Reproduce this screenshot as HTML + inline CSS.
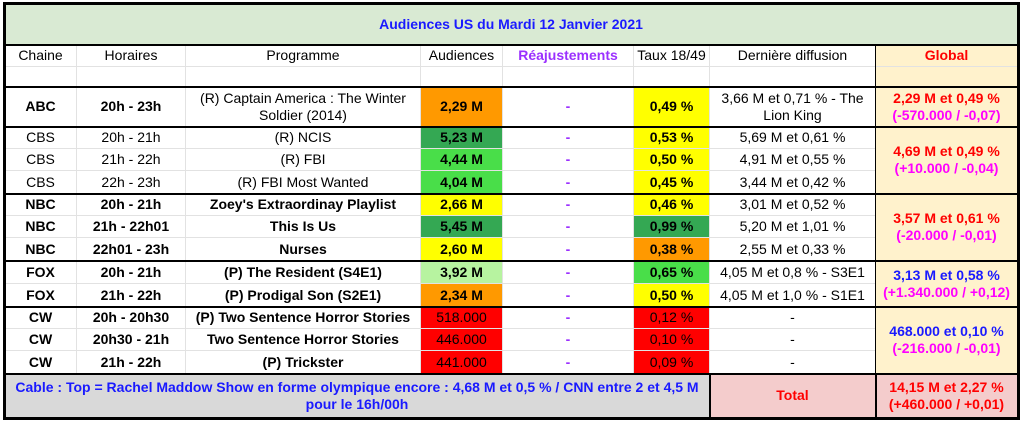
<!DOCTYPE html>
<html><head><meta charset="utf-8"><style>
body{margin:0;width:1022px;height:422px;background:#fff;position:relative;overflow:hidden;font-family:"Liberation Sans",Arial,sans-serif;font-size:14px;color:#000}
.c{position:absolute;box-sizing:border-box;display:flex;align-items:center;justify-content:center;text-align:center;border-right:1px solid #e2e2e2;border-bottom:1px solid #e2e2e2;line-height:17px;padding:0 2px}
.b{font-weight:bold}
.h{position:absolute;background:#000}
.pu{color:#9b30ff;font-weight:bold}
.or{background:#ff9900}.dg{background:#34a853}.g{background:#49de49}.lg{background:#b7f3a0}.y{background:#ffff00}.r{background:#ff0000}
.gl{background:#fff2cc;font-weight:bold}
.red{color:#ff0000}.mg{color:#ff00ff}.bl{color:#1a1aff}
</style></head><body>
<div class="c b bl" style="left:5px;top:4px;width:1013px;height:41px;background:#d9ead3">Audiences US du Mardi 12 Janvier 2021</div>
<div class="c" style="left:5px;top:45px;width:72px;height:22px">Chaine</div>
<div class="c" style="left:77px;top:45px;width:109px;height:22px">Horaires</div>
<div class="c" style="left:186px;top:45px;width:235px;height:22px">Programme</div>
<div class="c" style="left:421px;top:45px;width:82px;height:22px">Audiences</div>
<div class="c pu" style="left:503px;top:45px;width:131px;height:22px">Réajustements</div>
<div class="c" style="left:634px;top:45px;width:76px;height:22px">Taux 18/49</div>
<div class="c" style="left:710px;top:45px;width:166px;height:22px">Dernière diffusion</div>
<div class="c gl red" style="left:876px;top:45px;width:142px;height:22px">Global</div>
<div class="c" style="left:5px;top:67px;width:72px;height:20px"></div>
<div class="c" style="left:77px;top:67px;width:109px;height:20px"></div>
<div class="c" style="left:186px;top:67px;width:235px;height:20px"></div>
<div class="c" style="left:421px;top:67px;width:82px;height:20px"></div>
<div class="c" style="left:503px;top:67px;width:131px;height:20px"></div>
<div class="c" style="left:634px;top:67px;width:76px;height:20px"></div>
<div class="c" style="left:710px;top:67px;width:166px;height:20px"></div>
<div class="c gl" style="left:876px;top:67px;width:142px;height:20px"></div>
<div class="c b" style="left:5px;top:87px;width:72px;height:40px">ABC</div>
<div class="c b" style="left:77px;top:87px;width:109px;height:40px">20h - 23h</div>
<div class="c" style="left:186px;top:87px;width:235px;height:40px">(R) Captain America : The Winter Soldier (2014)</div>
<div class="c b or" style="left:421px;top:87px;width:82px;height:40px">2,29 M</div>
<div class="c pu" style="left:503px;top:87px;width:131px;height:40px">-</div>
<div class="c b y" style="left:634px;top:87px;width:76px;height:40px">0,49 %</div>
<div class="c" style="left:710px;top:87px;width:166px;height:40px;padding:0 8px">3,66 M et 0,71 % - The Lion King</div>
<div class="c gl" style="left:876px;top:87px;width:142px;height:40px"><div><span class="red">2,29 M et 0,49 %</span><br><span class="mg">(-570.000 / -0,07)</span></div></div>
<div class="c" style="left:5px;top:127px;width:72px;height:22px">CBS</div>
<div class="c" style="left:77px;top:127px;width:109px;height:22px">20h - 21h</div>
<div class="c" style="left:186px;top:127px;width:235px;height:22px">(R) NCIS</div>
<div class="c b dg" style="left:421px;top:127px;width:82px;height:22px">5,23 M</div>
<div class="c pu" style="left:503px;top:127px;width:131px;height:22px">-</div>
<div class="c b y" style="left:634px;top:127px;width:76px;height:22px">0,53 %</div>
<div class="c" style="left:710px;top:127px;width:166px;height:22px">5,69 M et 0,61 %</div>
<div class="c" style="left:5px;top:149px;width:72px;height:22px">CBS</div>
<div class="c" style="left:77px;top:149px;width:109px;height:22px">21h - 22h</div>
<div class="c" style="left:186px;top:149px;width:235px;height:22px">(R) FBI</div>
<div class="c b g" style="left:421px;top:149px;width:82px;height:22px">4,44 M</div>
<div class="c pu" style="left:503px;top:149px;width:131px;height:22px">-</div>
<div class="c b y" style="left:634px;top:149px;width:76px;height:22px">0,50 %</div>
<div class="c" style="left:710px;top:149px;width:166px;height:22px">4,91 M et 0,55 %</div>
<div class="c" style="left:5px;top:171px;width:72px;height:23px">CBS</div>
<div class="c" style="left:77px;top:171px;width:109px;height:23px">22h - 23h</div>
<div class="c" style="left:186px;top:171px;width:235px;height:23px">(R) FBI Most Wanted</div>
<div class="c b g" style="left:421px;top:171px;width:82px;height:23px">4,04 M</div>
<div class="c pu" style="left:503px;top:171px;width:131px;height:23px">-</div>
<div class="c b y" style="left:634px;top:171px;width:76px;height:23px">0,45 %</div>
<div class="c" style="left:710px;top:171px;width:166px;height:23px">3,44 M et 0,42 %</div>
<div class="c gl" style="left:876px;top:127px;width:142px;height:67px"><div><span class="red">4,69 M et 0,49 %</span><br><span class="mg">(+10.000 / -0,04)</span></div></div>
<div class="c b" style="left:5px;top:194px;width:72px;height:22px">NBC</div>
<div class="c b" style="left:77px;top:194px;width:109px;height:22px">20h - 21h</div>
<div class="c b" style="left:186px;top:194px;width:235px;height:22px">Zoey's Extraordinay Playlist</div>
<div class="c b y" style="left:421px;top:194px;width:82px;height:22px">2,66 M</div>
<div class="c pu" style="left:503px;top:194px;width:131px;height:22px">-</div>
<div class="c b y" style="left:634px;top:194px;width:76px;height:22px">0,46 %</div>
<div class="c" style="left:710px;top:194px;width:166px;height:22px">3,01 M et 0,52 %</div>
<div class="c b" style="left:5px;top:216px;width:72px;height:22px">NBC</div>
<div class="c b" style="left:77px;top:216px;width:109px;height:22px">21h - 22h01</div>
<div class="c b" style="left:186px;top:216px;width:235px;height:22px">This Is Us</div>
<div class="c b dg" style="left:421px;top:216px;width:82px;height:22px">5,45 M</div>
<div class="c pu" style="left:503px;top:216px;width:131px;height:22px">-</div>
<div class="c b dg" style="left:634px;top:216px;width:76px;height:22px">0,99 %</div>
<div class="c" style="left:710px;top:216px;width:166px;height:22px">5,20 M et 1,01 %</div>
<div class="c b" style="left:5px;top:238px;width:72px;height:23px">NBC</div>
<div class="c b" style="left:77px;top:238px;width:109px;height:23px">22h01 - 23h</div>
<div class="c b" style="left:186px;top:238px;width:235px;height:23px">Nurses</div>
<div class="c b y" style="left:421px;top:238px;width:82px;height:23px">2,60 M</div>
<div class="c pu" style="left:503px;top:238px;width:131px;height:23px">-</div>
<div class="c b or" style="left:634px;top:238px;width:76px;height:23px">0,38 %</div>
<div class="c" style="left:710px;top:238px;width:166px;height:23px">2,55 M et 0,33 %</div>
<div class="c gl" style="left:876px;top:194px;width:142px;height:67px"><div><span class="red">3,57 M et 0,61 %</span><br><span class="mg">(-20.000 / -0,01)</span></div></div>
<div class="c b" style="left:5px;top:261px;width:72px;height:23px">FOX</div>
<div class="c b" style="left:77px;top:261px;width:109px;height:23px">20h - 21h</div>
<div class="c b" style="left:186px;top:261px;width:235px;height:23px">(P) The Resident (S4E1)</div>
<div class="c b lg" style="left:421px;top:261px;width:82px;height:23px">3,92 M</div>
<div class="c pu" style="left:503px;top:261px;width:131px;height:23px">-</div>
<div class="c b g" style="left:634px;top:261px;width:76px;height:23px">0,65 %</div>
<div class="c" style="left:710px;top:261px;width:166px;height:23px">4,05 M et 0,8 % - S3E1</div>
<div class="c b" style="left:5px;top:284px;width:72px;height:23px">FOX</div>
<div class="c b" style="left:77px;top:284px;width:109px;height:23px">21h - 22h</div>
<div class="c b" style="left:186px;top:284px;width:235px;height:23px">(P) Prodigal Son (S2E1)</div>
<div class="c b or" style="left:421px;top:284px;width:82px;height:23px">2,34 M</div>
<div class="c pu" style="left:503px;top:284px;width:131px;height:23px">-</div>
<div class="c b y" style="left:634px;top:284px;width:76px;height:23px">0,50 %</div>
<div class="c" style="left:710px;top:284px;width:166px;height:23px">4,05 M et 1,0 % - S1E1</div>
<div class="c gl" style="left:876px;top:261px;width:142px;height:46px"><div><span class="bl">3,13 M et 0,58 %</span><br><span class="mg">(+1.340.000 / +0,12)</span></div></div>
<div class="c b" style="left:5px;top:307px;width:72px;height:22px">CW</div>
<div class="c b" style="left:77px;top:307px;width:109px;height:22px">20h - 20h30</div>
<div class="c b" style="left:186px;top:307px;width:235px;height:22px">(P) Two Sentence Horror Stories</div>
<div class="c r" style="left:421px;top:307px;width:82px;height:22px">518.000</div>
<div class="c pu" style="left:503px;top:307px;width:131px;height:22px">-</div>
<div class="c r" style="left:634px;top:307px;width:76px;height:22px">0,12 %</div>
<div class="c" style="left:710px;top:307px;width:166px;height:22px">-</div>
<div class="c b" style="left:5px;top:329px;width:72px;height:22px">CW</div>
<div class="c b" style="left:77px;top:329px;width:109px;height:22px">20h30 - 21h</div>
<div class="c b" style="left:186px;top:329px;width:235px;height:22px">Two Sentence Horror Stories</div>
<div class="c r" style="left:421px;top:329px;width:82px;height:22px">446.000</div>
<div class="c pu" style="left:503px;top:329px;width:131px;height:22px">-</div>
<div class="c r" style="left:634px;top:329px;width:76px;height:22px">0,10 %</div>
<div class="c" style="left:710px;top:329px;width:166px;height:22px">-</div>
<div class="c b" style="left:5px;top:351px;width:72px;height:23px">CW</div>
<div class="c b" style="left:77px;top:351px;width:109px;height:23px">21h - 22h</div>
<div class="c b" style="left:186px;top:351px;width:235px;height:23px">(P) Trickster</div>
<div class="c r" style="left:421px;top:351px;width:82px;height:23px">441.000</div>
<div class="c pu" style="left:503px;top:351px;width:131px;height:23px">-</div>
<div class="c r" style="left:634px;top:351px;width:76px;height:23px">0,09 %</div>
<div class="c" style="left:710px;top:351px;width:166px;height:23px">-</div>
<div class="c gl" style="left:876px;top:307px;width:142px;height:67px"><div><span class="bl">468.000 et 0,10 %</span><br><span class="mg">(-216.000 / -0,01)</span></div></div>
<div class="c b bl" style="left:5px;top:374px;width:705px;height:44px;background:#d9d9d9;padding:0 8px">Cable : Top = Rachel Maddow Show en forme olympique encore : 4,68 M et 0,5 % / CNN entre 2 et 4,5 M pour le 16h/00h</div>
<div class="c b red" style="left:710px;top:374px;width:166px;height:44px;background:#f4cccc">Total</div>
<div class="c b red" style="left:876px;top:374px;width:142px;height:44px;background:#f4cccc">14,15 M et 2,27 %<br>(+460.000 / +0,01)</div>
<div class="h" style="left:3px;top:2px;width:1017px;height:3px"></div>
<div class="h" style="left:3px;top:417px;width:1017px;height:3px"></div>
<div class="h" style="left:3px;top:2px;width:3px;height:418px"></div>
<div class="h" style="left:1017px;top:2px;width:3px;height:418px"></div>
<div class="h" style="left:3px;top:44px;width:1017px;height:2px"></div>
<div class="h" style="left:3px;top:86px;width:1017px;height:2px"></div>
<div class="h" style="left:3px;top:126px;width:1017px;height:2px"></div>
<div class="h" style="left:3px;top:193px;width:1017px;height:2px"></div>
<div class="h" style="left:3px;top:260px;width:1017px;height:2px"></div>
<div class="h" style="left:3px;top:306px;width:1017px;height:2px"></div>
<div class="h" style="left:3px;top:373px;width:1017px;height:2px"></div>
<div class="h" style="left:875px;top:45px;width:1px;height:374px"></div>
<div class="h" style="left:709px;top:374px;width:2px;height:44px"></div>
<div class="h" style="left:875px;top:374px;width:2px;height:44px"></div>
</body></html>
